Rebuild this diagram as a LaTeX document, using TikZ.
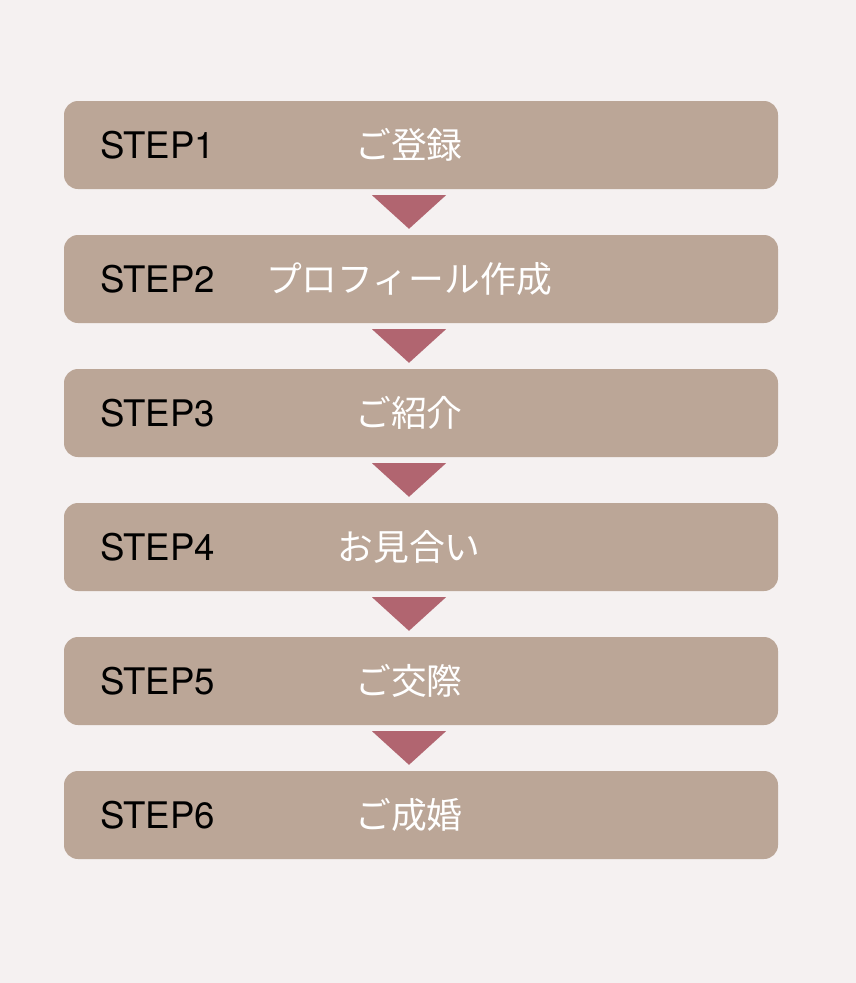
\documentclass[tikz,border=0pt]{standalone}
\usepackage{fontspec}
\setmainfont{TeX Gyre Heros}
\newfontfamily\jpfont{Noto Sans CJK JP}
\usetikzlibrary{calc}

\definecolor{pagebg}{HTML}{F5F1F1}
\definecolor{boxfill}{HTML}{BBA697}
\definecolor{trifill}{HTML}{B16570}

\tikzset{
    stepbox/.style={fill=boxfill, rounded corners=14pt, minimum width=714pt,
        minimum height=88pt, inner sep=0pt},
    steplabel/.style={anchor=base west, inner sep=0pt, font=\fontsize{36.6}{36.6}\selectfont, text=black},
    steptext/.style={inner sep=0pt, font=\jpfont\fontsize{35.8}{35.8}\selectfont, text=white},
    downtri/.style={fill=trifill}
}

\begin{document}
\begin{tikzpicture}[x=1pt, y=-1pt]

                % Page
                \fill[pagebg] (0,0) rectangle (856,983);
                \useasboundingbox (0,0) rectangle (856,983);

                % Step boxes
                \node[stepbox] (s1) at (421,145) {};
                \node[stepbox] (s2) at (421,279) {};
                \node[stepbox] (s3) at (421,413) {};
                \node[stepbox] (s4) at (421,547) {};
                \node[stepbox] (s5) at (421,681) {};
                \node[stepbox] (s6) at (421,815) {};

                % Step numbers
                \node[steplabel] (l1) at (100,158.5) {STEP1};
                \node[steplabel] (l2) at (100,292.5) {STEP2};
                \node[steplabel] (l3) at (100,426.5) {STEP3};
                \node[steplabel] (l4) at (100,560.5) {STEP4};
                \node[steplabel] (l5) at (100,694.5) {STEP5};
                \node[steplabel] (l6) at (100,828.5) {STEP6};

                % Step names
                \node[steptext] (t1) at (409,145) {ご登録};
                \node[steptext] (t2) at (409,279) {プロフィール作成};
                \node[steptext] (t3) at (409,413) {ご紹介};
                \node[steptext] (t4) at (409,547) {お見合い};
                \node[steptext] (t5) at (409,681) {ご交際};
                \node[steptext] (t6) at (409,815) {ご成婚};

                % Arrows between boxes
                \fill[downtri] ($(t1 |- s1.south)+(-37,6)$) -- ++(74,0) -- ($(t1 |- s2.north)+(0,-6)$) -- cycle;
                \fill[downtri] ($(t2 |- s2.south)+(-37,6)$) -- ++(74,0) -- ($(t2 |- s3.north)+(0,-6)$) -- cycle;
                \fill[downtri] ($(t3 |- s3.south)+(-37,6)$) -- ++(74,0) -- ($(t3 |- s4.north)+(0,-6)$) -- cycle;
                \fill[downtri] ($(t4 |- s4.south)+(-37,6)$) -- ++(74,0) -- ($(t4 |- s5.north)+(0,-6)$) -- cycle;
                \fill[downtri] ($(t5 |- s5.south)+(-37,6)$) -- ++(74,0) -- ($(t5 |- s6.north)+(0,-6)$) -- cycle;

\end{tikzpicture}
\end{document}
